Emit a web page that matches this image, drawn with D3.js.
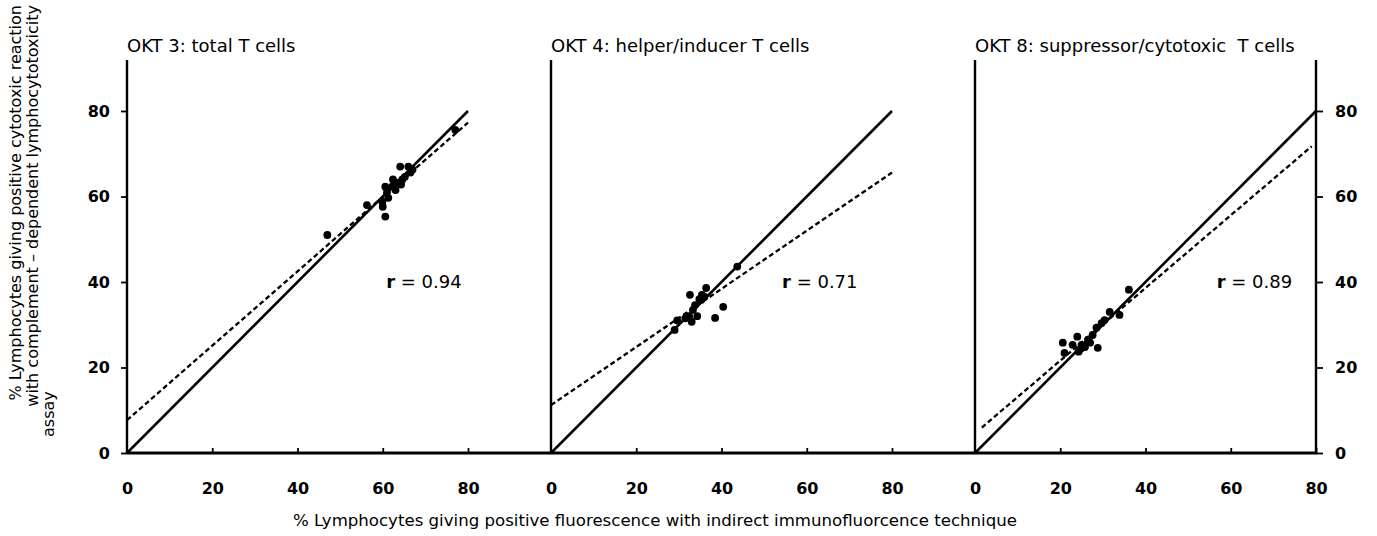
<!DOCTYPE html>
<html>
<head>
<meta charset="utf-8">
<script src="https://cdn.jsdelivr.net/npm/d3@7"></script>
<style>
  body { margin: 0; background: #fff; }
  svg { font-family: 'DejaVu Sans', sans-serif; }
  .tick text { font-family: 'DejaVu Sans', sans-serif; font-weight: bold; font-size: 16px; fill: #000; }
  .tick line { stroke: #000; stroke-width: 1.8; }
</style>
</head>
<body>
<div id="area"></div>
<script>
// values
const panelTitles = ['OKT 3: total T cells', 'OKT 4: helper/inducer T cells', 'OKT 8: suppressor/cytotoxic\u00a0 T cells']
const rValues = ['0.94', '0.71', '0.89']
const tickValues = [0, 20, 40, 60, 80]

const okt3X = [47, 56.3, 59.9, 60, 60.6, 60.6, 61, 61.3, 62.2, 62.4, 63, 63.5, 64.1, 64.3, 64.6, 65.2, 66, 66.5, 67, 77]
const okt3Y = [51, 58, 58.8, 57.6, 55.3, 62.3, 61, 59.7, 62.3, 64, 61.5, 63.2, 67, 62.8, 64, 64.6, 67, 65.6, 66.3, 75.6]

const okt4X = [29, 29.6, 31.5, 32.4, 32.6, 33, 33.3, 33.8, 34.3, 34.8, 35.2, 35.4, 36, 36.4, 38.5, 40.4, 43.7]
const okt4Y = [28.8, 31, 31.5, 32, 37, 30.7, 33.5, 34.6, 32, 36, 35.8, 37, 36.6, 38.6, 31.6, 34.2, 43.6]

const okt8X = [20.6, 21, 22.9, 24, 24.3, 24.8, 25, 25.8, 26.5, 27, 27.6, 28.5, 28.8, 29.7, 30.4, 31.6, 33.9, 36.1]
const okt8Y = [25.8, 23.4, 25.3, 27.2, 23.7, 24.4, 25.3, 24.8, 26.5, 25.8, 27.6, 29.3, 24.6, 30.4, 31.1, 33, 32.3, 38.2]

// dashed regression lines: intercept, slope, x from, x to
const fitIntercepts = [7.7, 11.2, 4.6]
const fitSlopes = [0.87, 0.68, 0.85]
const fitFrom = [0, 0, 1.6]
const fitTo = [80, 80, 79]

const panelData = [[okt3X, okt3Y], [okt4X, okt4Y], [okt8X, okt8Y]]

const svg = d3.select('#area')
            .append('svg')
            .attr('width', 1377)
            .attr('height', 536)

const panelLeft = [127, 551, 975]
const panelWidth = 341
const yScale = d3.scaleLinear()
              .domain([0, 80])
              .range([453, 111])

const xScales = panelLeft.map(x0 => d3.scaleLinear().domain([0, 80]).range([x0, x0 + panelWidth]))

// baseline across all three panels
svg.append('line')
    .attr('x1', panelLeft[0]).attr('x2', panelLeft[2] + panelWidth + 1)
    .attr('y1', yScale(0)).attr('y2', yScale(0))
    .attr('stroke', '#000').attr('stroke-width', 2.8)

panelLeft.forEach((x0, i) => {
  const xScale = xScales[i]
  const g = svg.append('g')

  // vertical axis line
  g.append('line')
    .attr('x1', x0).attr('x2', x0)
    .attr('y1', 60).attr('y2', yScale(0))
    .attr('stroke', '#000').attr('stroke-width', 2.4)

  // x ticks (pointing up) and labels
  g.append('g')
    .attr('transform', `translate(0,${yScale(0)})`)
    .call(d3.axisBottom(xScale).tickValues(tickValues).tickSizeInner(-5).tickSizeOuter(0).tickPadding(30))
    .call(a => a.select('.domain').remove())
    .call(a => a.selectAll('.tick line').filter(d => d === 0).remove())

  g.append('text')
    .attr('x', x0)
    .attr('y', 52)
    .attr('font-size', 18)
    .text(panelTitles[i])

  // line of identity
  g.append('line')
    .attr('x1', xScale(0)).attr('y1', yScale(0))
    .attr('x2', xScale(80)).attr('y2', yScale(80))
    .attr('stroke', '#000').attr('stroke-width', 2.6)

  // regression line
  g.append('line')
    .attr('x1', xScale(fitFrom[i])).attr('y1', yScale(fitIntercepts[i] + fitSlopes[i] * fitFrom[i]))
    .attr('x2', xScale(fitTo[i])).attr('y2', yScale(fitIntercepts[i] + fitSlopes[i] * fitTo[i]))
    .attr('stroke', '#000').attr('stroke-width', 2.3)
    .attr('stroke-dasharray', '5,3')

  const xs = panelData[i][0], ys = panelData[i][1]
  g.selectAll('circle')
    .data(xs)
    .enter()
    .append('circle')
    .attr('cx', d => xScale(d))
    .attr('cy', (d, j) => yScale(ys[j]))
    .attr('r', 3.9)
    .attr('fill', '#000')

  const rLabel = g.append('text')
    .attr('x', xScale([60.8, 54.2, 56.7][i]))
    .attr('y', yScale(40) + 6)
    .attr('font-size', 18)
  rLabel.append('tspan').attr('font-weight', 'bold').text('r')
  rLabel.append('tspan').text(' = ' + rValues[i])
})

// left y axis on first panel
svg.append('g')
    .attr('transform', `translate(${panelLeft[0]},0)`)
    .call(d3.axisLeft(yScale).tickValues(tickValues).tickSize(6).tickPadding(11))
    .call(a => a.select('.domain').remove())

// right y axis on last panel
const rightX = panelLeft[2] + panelWidth
svg.append('line')
    .attr('x1', rightX).attr('x2', rightX)
    .attr('y1', 60).attr('y2', yScale(0))
    .attr('stroke', '#000').attr('stroke-width', 2.4)
svg.append('g')
    .attr('transform', `translate(${rightX},0)`)
    .call(d3.axisRight(yScale).tickValues(tickValues).tickSize(7).tickPadding(12))
    .call(a => a.select('.domain').remove())

// axis titles
svg.append('text')
    .attr('x', 655)
    .attr('y', 526)
    .attr('text-anchor', 'middle')
    .attr('font-size', 16.6)
    .text('% Lymphocytes giving positive fluorescence with indirect immunofluorcence technique')

const yTitle = [
  ['% Lymphocytes giving positive cytotoxic reaction', 21, 5, 'end'],
  ['with complement \u2013 dependent lymphocytotoxicity', 38, 5, 'end'],
  ['assay', 54, 437, 'start']
]
svg.selectAll('.ytitle')
    .data(yTitle)
    .enter()
    .append('text')
    .attr('class', 'ytitle')
    .attr('transform', d => `translate(${d[1]},${d[2]}) rotate(-90)`)
    .attr('text-anchor', d => d[3])
    .attr('font-size', 16)
    .text(d => d[0])
</script>
</body>
</html>
